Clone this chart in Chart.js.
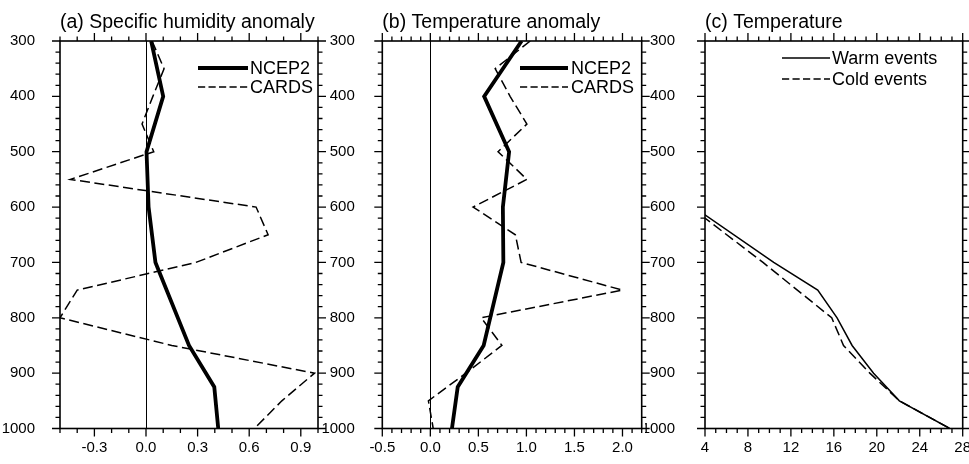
<!DOCTYPE html>
<html>
<head>
<meta charset="utf-8">
<script src="https://cdn.jsdelivr.net/npm/chart.js@4"></script>
<style>
html, body { margin: 0; padding: 0; background: #fff; }
#wrap { position: relative; width: 969px; height: 464px; overflow: hidden; background: #fff; }
#wrap canvas { position: absolute; left: 0; top: 0; }
</style>
</head>
<body>
<div id="wrap">
  <canvas id="ca" width="969" height="464"></canvas>
  <canvas id="cb" width="969" height="464"></canvas>
  <canvas id="cc" width="969" height="464"></canvas>
</div>
<script>
const FONT = "'Liberation Sans', Arial, Helvetica, sans-serif";

// ---- data (pressure levels in hPa) ----
const ncepLevels  = [300, 400, 500, 600, 700, 850, 925, 1000];
const cardsLevels = [300, 350, 400, 450, 500, 550, 600, 650, 700, 750, 800, 850, 900, 950, 1000];

// (a) specific humidity anomaly
const humNcep  = [0.03, 0.10, 0.003, 0.015, 0.055, 0.25, 0.397, 0.42];
const humCards = [0.035, 0.105, 0.04, -0.023, 0.045, -0.44, 0.64, 0.71, 0.29, -0.40, -0.50, 0.15, 0.98, 0.79, 0.63];

// (b) temperature anomaly
const tempNcep  = [0.95, 0.56, 0.82, 0.755, 0.76, 0.555, 0.285, 0.225];
const tempCards = [1.04, 0.675, 0.83, 1.005, 0.705, 1.005, 0.445, 0.885, 0.945, 2.0, 0.53, 0.745, 0.37, -0.02, 0.03];

// (c) temperature
const tempLevels = [600, 700, 750, 800, 850, 900, 950, 1000];
const tempWarm   = [2.95, 10.4, 14.5, 16.3, 17.7, 19.7, 22.1, 26.8];
const tempCold   = [2.65, 9.4, 12.6, 15.8, 16.9, 19.35, 22.1, 26.8];

// ---- tick labels ----
const pressureTicks = [300, 400, 500, 600, 700, 800, 900, 1000];
const humTicks      = [-0.3, 0.0, 0.3, 0.6, 0.9];
const tempAnomTicks = [-0.5, 0.0, 0.5, 1.0, 1.5, 2.0];
const tempTicks     = [4, 8, 12, 16, 20, 24, 28];

const titles = ['(a) Specific humidity anomaly', '(b) Temperature anomaly', '(c) Temperature'];
const anomLegend = ['NCEP2', 'CARDS'];
const tempLegend = ['Warm events', 'Cold events'];

const pts = (xs, ps) => xs.map((v, i) => ({ x: v, y: ps[i] }));

const framePlugin = {
  id: 'frame',
  afterDraw(chart, args, o) {
    const { ctx, chartArea: a, scales: { x, y } } = chart;
    ctx.save();
    ctx.strokeStyle = '#000';
    ctx.lineWidth = 1.3;
    ctx.lineCap = 'butt';
    ctx.setLineDash([]);
    ctx.beginPath();
    const isMajor = (list, v) => list.some(m => Math.abs(m - v) < 1e-6);
    const nx = Math.round((x.max - x.min) / o.xMinor);
    for (let i = 0; i <= nx; i++) {
      const v = x.min + i * o.xMinor;
      const len = isMajor(o.xMajor, v) ? 8 : 4.5;
      const px = x.getPixelForValue(v);
      ctx.moveTo(px, a.top); ctx.lineTo(px, a.top - len);
      ctx.moveTo(px, a.bottom); ctx.lineTo(px, a.bottom + len);
    }
    const ny = Math.round((y.max - y.min) / 20);
    for (let i = 0; i <= ny; i++) {
      const v = y.min + i * 20;
      const len = isMajor(pressureTicks, v) ? 8 : 4.5;
      const py = y.getPixelForValue(v);
      ctx.moveTo(a.left, py); ctx.lineTo(a.left - len, py);
      ctx.moveTo(a.right, py); ctx.lineTo(a.right + len, py);
    }
    ctx.stroke();
    ctx.lineWidth = 1.6;
    ctx.strokeRect(a.left, a.top, a.right - a.left, a.bottom - a.top);

    ctx.fillStyle = '#000';
    ctx.font = '19.5px ' + FONT;
    ctx.textAlign = 'left';
    ctx.textBaseline = 'alphabetic';
    ctx.fillText(o.title, a.left, 28);

    ctx.font = '18px ' + FONT;
    ctx.textBaseline = 'middle';
    chart.data.datasets.forEach((ds, i) => {
      const ly = o.legendY[i];
      ctx.beginPath();
      ctx.lineWidth = ds.borderWidth;
      ctx.setLineDash(ds.legendDash || []);
      ctx.moveTo(o.legendX0, ly);
      ctx.lineTo(o.legendX1, ly);
      ctx.stroke();
      ctx.setLineDash([]);
      ctx.fillText(ds.label, o.legendTextX, ly + 1);
    });
    ctx.restore();
  }
};

function makeChart(id, datasets, cfg) {
  return new Chart(document.getElementById(id), {
    type: 'line',
    data: { datasets },
    options: {
      responsive: false,
      animation: false,
      devicePixelRatio: 1,
      layout: { padding: { left: cfg.padLeft, right: cfg.padRight, top: 41, bottom: 0 } },
      elements: { point: { radius: 0 }, line: { tension: 0, borderCapStyle: 'butt', borderJoinStyle: 'miter' } },
      plugins: {
        legend: { display: false },
        tooltip: { enabled: false },
        title: { display: false },
        frame: cfg.frame
      },
      scales: {
        x: {
          type: 'linear',
          min: cfg.xMin,
          max: cfg.xMax,
          afterBuildTicks: s => { s.ticks = cfg.xTicks.map(v => ({ value: v })); },
          afterFit: s => { s.height = 35.5; s.paddingLeft = 0; s.paddingRight = 0; },
          ticks: {
            autoSkip: false, maxRotation: 0, minRotation: 0, padding: 10.5,
            font: { family: FONT, size: 15 }, color: '#000',
            callback: cfg.fmt
          },
          grid: {
            drawTicks: false,
            lineWidth: 1,
            color: c => (cfg.zeroLine && c.tick && Math.abs(c.tick.value) < 1e-9) ? '#000' : 'rgba(0,0,0,0)'
          },
          border: { display: false }
        },
        y: {
          type: 'linear',
          reverse: true,
          min: 300,
          max: 1000,
          afterBuildTicks: s => { s.ticks = pressureTicks.map(v => ({ value: v })); },
          afterFit: s => { s.width = 60; s.paddingTop = 0; s.paddingBottom = 0; },
          ticks: {
            autoSkip: false, padding: cfg.yPad,
            font: { family: FONT, size: 15 }, color: '#000',
            callback: v => String(v)
          },
          grid: { display: false },
          border: { display: false }
        }
      }
    },
    plugins: [framePlugin]
  });
}

makeChart('ca', [
  { label: anomLegend[0], data: pts(humNcep, ncepLevels), borderColor: '#000', borderWidth: 3.8, legendDash: [] },
  { label: anomLegend[1], data: pts(humCards, cardsLevels), borderColor: '#000', borderWidth: 1.5, borderDash: [10, 4.5], legendDash: [7.2, 3.3] }
], {
  padLeft: 0, padRight: 651, xMin: -0.5, xMax: 1.0, xTicks: humTicks, zeroLine: true, yPad: 17,
  fmt: v => Number(v).toFixed(1),
  frame: { title: titles[0], xMinor: 0.1, xMajor: humTicks, legendX0: 198, legendX1: 248, legendTextX: 250, legendY: [68, 87] }
});

makeChart('cb', [
  { label: anomLegend[0], data: pts(tempNcep, ncepLevels), borderColor: '#000', borderWidth: 3.8, legendDash: [] },
  { label: anomLegend[1], data: pts(tempCards, cardsLevels), borderColor: '#000', borderWidth: 1.5, borderDash: [10, 4.5], legendDash: [7.2, 3.3] }
], {
  padLeft: 322.3, padRight: 327.3, xMin: -0.5, xMax: 2.2, xTicks: tempAnomTicks, zeroLine: true, yPad: 19.5,
  fmt: v => Number(v).toFixed(1),
  frame: { title: titles[1], xMinor: 0.1, xMajor: tempAnomTicks, legendX0: 520, legendX1: 568, legendTextX: 571, legendY: [68, 87] }
});

makeChart('cc', [
  { label: tempLegend[0], data: pts(tempWarm, tempLevels), borderColor: '#000', borderWidth: 1.5, legendDash: [] },
  { label: tempLegend[1], data: pts(tempCold, tempLevels), borderColor: '#000', borderWidth: 1.5, borderDash: [10, 4.5], legendDash: [7.2, 3.3] }
], {
  padLeft: 645, padRight: 6.3, xMin: 4, xMax: 28, xTicks: tempTicks, zeroLine: false, yPad: 22,
  fmt: v => String(v),
  frame: { title: titles[2], xMinor: 1, xMajor: tempTicks, legendX0: 782, legendX1: 830, legendTextX: 832, legendY: [58, 79] }
});
</script>
</body>
</html>
